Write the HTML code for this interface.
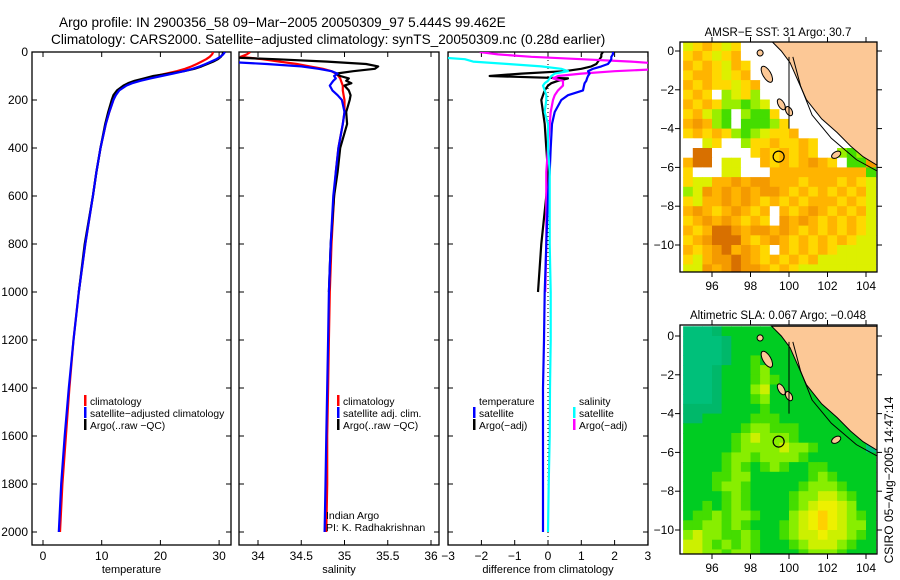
<!DOCTYPE html>
<html><head><meta charset="utf-8"><style>
html,body{margin:0;padding:0;background:#fff;}
svg{display:block;font-family:"Liberation Sans",sans-serif;}
</style></head><body>
<svg id="chart" width="900" height="580" viewBox="0 0 900 580" xmlns="http://www.w3.org/2000/svg">
<defs>
<clipPath id="c1"><rect x="32" y="52" width="199" height="493"/></clipPath>
<clipPath id="c2"><rect x="239" y="52" width="200" height="493"/></clipPath>
<clipPath id="c3"><rect x="448" y="52" width="200" height="493"/></clipPath>
<clipPath id="m1"><rect x="680" y="42" width="197" height="230"/></clipPath>
<clipPath id="m2"><rect x="680" y="325" width="197" height="229"/></clipPath>
</defs>
<text x="59" y="27" font-size="13.6">Argo profile: IN 2900356_58 09−Mar−2005 20050309_97 5.444S 99.462E</text>
<text x="51" y="44" font-size="13.6">Climatology: CARS2000. Satellite−adjusted climatology: synTS_20050309.nc (0.28d earlier)</text>
<g id="g1"></g>
<g id="g2"></g>
<g id="g3"></g>
<g id="map1"></g>
<g id="map2"></g>
<text transform="translate(893,480) rotate(-90)" font-size="12" text-anchor="middle">CSIRO 05−Aug−2005 14:47:14</text>
</svg>
<script>
const depth = [0,10,20,30,40,50,60,70,80,90,100,110,120,130,140,160,180,200,250,300,400,500,600,800,1000,1200,1400,1600,1800,2000];
const argoDepth = depth.slice(0,25);
const tempClim = [29.0,28.8,28.4,27.8,27.0,26.2,25.3,24.2,22.8,21.0,19.2,17.5,16.0,14.8,13.8,12.8,12.3,12.0,11.3,10.7,9.8,9.1,8.5,7.2,6.1,5.2,4.5,3.9,3.3,2.9];
const tempSat = [31.0,30.7,30.2,29.5,28.6,27.7,26.7,25.5,24.0,22.2,20.2,18.3,16.6,15.2,14.2,13.0,12.4,12.0,11.3,10.7,9.8,9.1,8.5,7.2,6.1,5.2,4.4,3.7,3.1,2.7];
const tempArgo = [30.7,30.6,30.3,29.8,29.0,28.0,27.0,25.8,24.0,21.5,18.8,17.2,15.6,14.5,13.7,12.6,12.0,11.7,11.1,10.6,9.8,9.1,8.5,7.1,6.1];
const salClim = [33.91,33.87,33.8,34.05,34.25,34.45,34.6,34.75,34.85,34.9,34.93,34.95,34.96,34.97,34.98,34.98,34.99,35.0,35.0,34.98,34.93,34.9,34.88,34.85,34.83,34.82,34.81,34.8,34.8,34.79];
const salSat = [33.5,33.5,33.5,33.5,33.6,34.1,34.5,34.7,34.85,34.92,34.88,34.9,34.87,34.85,34.83,34.86,34.92,34.97,35.0,34.98,34.93,34.9,34.87,34.84,34.82,34.81,34.8,34.79,34.78,34.77];
const salArgo = [32.5,33.0,33.5,34.2,34.8,35.25,35.39,35.35,35.1,34.9,34.95,35.05,35.02,35.08,35.0,35.05,35.07,35.06,35.02,35.03,34.95,34.92,34.88,34.84,34.82];
const dTempSat = [1.95,1.95,1.9,1.9,1.86,1.8,1.6,1.35,1.2,1.25,1.2,1.17,1.15,1.1,1.08,1.05,0.6,0.4,0.2,0.12,0.08,0.05,0.0,-0.05,-0.1,-0.12,-0.15,-0.15,-0.15,-0.15];
const dTempArgo = [1.65,1.6,1.6,1.55,1.5,1.45,1.3,1.0,0.5,-0.8,-1.75,0.6,0.3,0.1,0.0,-0.1,-0.15,-0.2,-0.15,-0.1,-0.05,0.0,-0.05,-0.2,-0.3];
const dSalSat = [-4,-4,-3.5,-2.5,-2.25,-1.2,-0.2,0.4,0.6,0.2,0.1,0.05,0.0,-0.1,-0.15,-0.1,-0.05,-0.05,-0.1,0.0,0.0,0.05,0.05,0.05,0.08,0.08,0.06,0.05,0.02,0.0];
const dSalArgo = [-2.05,-1.5,-0.5,1,2.5,3.5,3.5,3.5,2.0,1.0,0.3,0.15,0.45,0.45,0.45,0.3,0.2,0.15,0.08,0.05,0.0,-0.05,-0.05,-0.05,-0.08];
const depthTicks = [0,200,400,600,800,1000,1200,1400,1600,1800,2000];
const tempTicks = [0,10,20,30];
const salTicks = [34,34.5,35,35.5,36];
const diffTicks = [-3,-2,-1,0,1,2,3];
const lonTicks = [96,98,100,102,104];
const latTicks = [0,-2,-4,-6,-8,-10];
const argoLon = 99.462, argoLat = -5.444;
const sstGrid = [
"yYoYyYwwwwwwwwwwwwww","YoYyYowwwwwwwwwwwwww","oYoYyoYwwwwwwwwwwwww","YooYyYowwwwwwwwwwwww",
"oYoYYyYowwwwwwwwwwww","YoYwlyYlwwwwwwwwwwww","oYoYllglywwwwwwwwwww","YoylgwlggYwwwwwwwwww",
"oOolgwggglYwwwwwwwww","YoYoYlglyYYowwwwwwww","wwyYwwlYYoYYoYwwwwww","wDDwwwwYoYoYoYwwlgly",
"oDDwyywwoYoYoOoYwggO","Ywwwyywwwoooooooooog","YyyooOoOOoooYoooYoYy","lyOoOoOoOOoYoYoYoYoy",
"YyooOoOoYoYoYoooYoYy","oOoYoOoYowoYoOoYoYoy","YoOoOoYoYwOoOoYoYoYy","oYoDDOoOOoOoYoYoYoYy",
"YoODDDoYoOoYoYoYoYyy","oYoODoOoYwoYoYoYyyyy","YyoOODOoYoYoYoyyyyyy","yyOoODOOoYoYyyyyyyyy"];
const slaGrid = [
"tttTGGGGGGGGGGtttttt","ttttTGGGGGGGGGGttttt","ttttTGGGGGGGGGGGtttt","ttttTGGgGGGGGGGGtttt",
"tttTGGGglGGGGGGGGttt","tttTGGGglgGGGGGGGGtt","tttTGGGlyGGGGGGGGGtt","tttTGGGglGGGGGGGGGGt",
"TTTTGGGGgGGGGGGGGGGt","TTGGGGGgggGGGGGGGGGt","GGGGGGgllgggGGGGGGGt","GGGGGglylllgGGGGGGGt",
"GGGGGgllllyllgGGGGGt","GGGGgllgllllgGGGGGGG","GGGGglgGglgGGggGGGGG","GGGggllGGGGGGglgGGGG",
"GGGgllgGGGGGglllgGGG","GGGGglgGGGGgllyylgGG","GGgGglgGGGGglyYYylGG","GgglgllgGGGlyYoYylgG",
"ggllglgGGGglyYoYyllG","lyllgglgGGglyyYyylgG","yylglglgGGGglyyylgGG","yyllgllgGGGGglllgGGG"];
const coastLon = [99.1,99.6,100.05,100.9,101.7,102.5,103.2,103.85,104.6,104.6];
const coastLat = [0.5,0.0,-0.6,-2.5,-3.5,-4.2,-4.9,-5.45,-5.9,0.5];

const NS="http://www.w3.org/2000/svg";
function mk(parent,tag,attrs,text){const e=document.createElementNS(NS,tag);for(const k in attrs)e.setAttribute(k,attrs[k]);if(text!==undefined)e.textContent=text;parent.appendChild(e);return e;}
const yD = d => 52 + d*0.24;
const xT = t => 43 + t*5.87;
const xS = s => 258 + (s-34)*86.5;
const xDf = v => 548 + v*33.3;

function panel(g,x0,x1,xs,ticks,fmt,showY,title,clip){
  const f=mk(g,'rect',{x:x0,y:52,width:x1-x0,height:493,fill:'none',stroke:'#000','stroke-width':1.3});
  
  
  depthTicks.forEach(d=>{
    mk(g,'line',{x1:x0,x2:x0+5,y1:yD(d),y2:yD(d),stroke:'#000'});
    mk(g,'line',{x1:x1-5,x2:x1,y1:yD(d),y2:yD(d),stroke:'#000'});
    if(showY){const t=mk(g,'text',{x:28,y:yD(d)+4,'font-size':12,'text-anchor':'end'},String(d));
      
      }
  });
  ticks.forEach(v=>{
    const x=xs(v);
    mk(g,'line',{x1:x,x2:x,y1:52,y2:57,stroke:'#000'});
    mk(g,'line',{x1:x,x2:x,y1:540,y2:545,stroke:'#000'});
    const t=mk(g,'text',{x:x,y:560,'font-size':12,'text-anchor':'middle'},fmt(v));
    
    
  });
  const at=mk(g,'text',{x:(x0+x1)/2,y:573,'font-size':11,'text-anchor':'middle'},title);
  
  
  return mk(g,'g',{'clip-path':'url(#'+clip+')'});
}
function line(g,xs,vals,deps,color,name){
  const p=deps.map((d,i)=>xs(vals[i]).toFixed(1)+','+yD(d).toFixed(1)).join(' ');
  const e=mk(g,'polyline',{points:p,fill:'none',stroke:color,'stroke-width':2.2,'stroke-linejoin':'round'});
  
  
}
function legend(g,x,y,color,label){
  if(color){const m=mk(g,'rect',{x:x,y:y-10,width:2.5,height:11,fill:color});
    
    }
  const t=mk(g,'text',{x:x+6,y:y,'font-size':10.3},label);
  
  
}
const g1=document.getElementById('g1'),g2=document.getElementById('g2'),g3=document.getElementById('g3');
const p1=panel(g1,32,231,xT,tempTicks,v=>String(v),true,'temperature','c1');
line(p1,xT,tempClim,depth,'#ff0000','temp-climatology-line');
line(p1,xT,tempArgo,argoDepth,'#000000','temp-argo-line');
line(p1,xT,tempSat,depth,'#0000ff','temp-satellite-line');
legend(g1,84,405,'#ff0000','climatology');
legend(g1,84,417,'#0000ff','satellite−adjusted climatology');
legend(g1,84,429,'#000','Argo(..raw −QC)');

const p2=panel(g2,239,439,xS,salTicks,v=>String(v),false,'salinity','c2');
line(p2,xS,salClim,depth,'#ff0000','sal-climatology-line');
line(p2,xS,salArgo,argoDepth,'#000000','sal-argo-line');
line(p2,xS,salSat,depth,'#0000ff','sal-satellite-line');
legend(g2,337,405,'#ff0000','climatology');
legend(g2,337,417,'#0000ff','satellite adj. clim.');
legend(g2,337,429,'#000','Argo(..raw −QC)');
const c1=mk(g2,'text',{x:326,y:519,'font-size':10.5},'Indian Argo');
const c2=mk(g2,'text',{x:326,y:531,'font-size':10.5},'PI: K. Radhakrishnan');

const p3=panel(g3,448,648,xDf,diffTicks,v=>String(v).replace('-','−'),false,'difference from climatology','c3');
mk(p3,'line',{x1:xDf(0),x2:xDf(0),y1:52,y2:545,stroke:'#000','stroke-dasharray':'1 3'});
line(p3,xDf,dTempArgo,argoDepth,'#000000','temp-argo-diff-line');
line(p3,xDf,dSalArgo,argoDepth,'#ff00ff','sal-argo-diff-line');
line(p3,xDf,dTempSat,depth,'#0000ff','temp-satellite-diff-line');
line(p3,xDf,dSalSat,depth,'#00ffff','sal-satellite-diff-line');
legend(g3,473,405,null,'temperature');
legend(g3,473,417,'#0000ff','satellite');
legend(g3,473,429,'#000','Argo(−adj)');
legend(g3,573,405,null,'salinity');
legend(g3,573,417,'#00ffff','satellite');
legend(g3,573,429,'#ff00ff','Argo(−adj)');

const sstCol={w:'#ffffff',y:'#ddf000',Y:'#ffd800',o:'#ffb400',O:'#f49a00',D:'#d87000',l:'#99ee00',g:'#44dd00'};
const slaCol={t:'#00c07a',T:'#00b86a',G:'#00cc22',g:'#44dd00',l:'#88ee00',y:'#ccf000',Y:'#eef000',o:'#ffd000'};
function map(id,top,bot,lat0y,grid,cols,clip,title){
  const g=document.getElementById(id);
  const xL=lon=>712+(lon-96)*19.25;
  const yL=lat=>lat0y+(-lat)*19.4;
  const c=mk(g,'g',{'clip-path':'url(#'+clip+')'});
  grid.forEach((row,r)=>{for(let k=0;k<row.length;k++){
    const lon=94.5+k*0.5, lat=0.5-r*0.5;
    const cell=mk(c,'rect',{x:xL(lon).toFixed(1),y:yL(lat).toFixed(1),width:10.2,height:10.3,fill:cols[row[k]]});
    
    
  }});
  const pts=coastLon.map((l,i)=>xL(l).toFixed(1)+','+yL(coastLat[i]).toFixed(1)).join(' ');
  const land=mk(c,'polygon',{points:pts,fill:'#fcc896',stroke:'#000','stroke-width':1});
  
  
  const isl=[[98.85,-1.2,4,9],[99.6,-2.75,3,6],[100.0,-3.1,3,5],[102.45,-5.35,5,3],[98.5,-0.1,3,3]];
  isl.forEach(a=>{const e=mk(c,'ellipse',{cx:xL(a[0]),cy:yL(a[1]),rx:a[2],ry:a[3],fill:'#fcc896',stroke:'#000','stroke-width':1,transform:'rotate(-30 '+xL(a[0])+' '+yL(a[1])+')'});
    });
  mk(c,'polyline',{points:[xL(100),yL(-0.3),xL(100),yL(-4)].join(','),fill:'none',stroke:'#000','stroke-width':1});
  mk(c,'polyline',{points:[[100.2,-0.3],[100.6,-1.8],[101.2,-3.3],[102.2,-4.5],[103.5,-5.6],[104.6,-6.2]].map(p=>xL(p[0])+','+yL(p[1])).join(' '),fill:'none',stroke:'#000','stroke-width':1});
  const mk1=mk(g,'circle',{cx:xL(argoLon),cy:yL(argoLat),r:5.5,fill:'none',stroke:'#000','stroke-width':1.2});
  
  
  const fr=mk(g,'rect',{x:680,y:top,width:197,height:bot-top,fill:'none',stroke:'#000','stroke-width':1.3});
  
  latTicks.forEach(l=>{const y=yL(l);
    mk(g,'line',{x1:675,x2:680,y1:y,y2:y,stroke:'#000'});mk(g,'line',{x1:877,x2:882,y1:y,y2:y,stroke:'#000'});
    const t=mk(g,'text',{x:674,y:y+4,'font-size':12,'text-anchor':'end'},String(l).replace('-','−'));
    });
  lonTicks.forEach(l=>{const x=xL(l);
    mk(g,'line',{x1:x,x2:x,y1:top-5,y2:top,stroke:'#000'});mk(g,'line',{x1:x,x2:x,y1:bot,y2:bot+5,stroke:'#000'});
    const t=mk(g,'text',{x:x,y:bot+18,'font-size':12,'text-anchor':'middle'},String(l));
    });
  const tt=mk(g,'text',{x:778,y:top-6,'font-size':11.5,'text-anchor':'middle'},title);
  
}
map('map1',42,272,51,sstGrid,sstCol,'m1','AMSR−E SST: 31 Argo: 30.7');
map('map2',325,554,336,slaGrid,slaCol,'m2','Altimetric SLA: 0.067 Argo: −0.048');
</script>
</body></html>
